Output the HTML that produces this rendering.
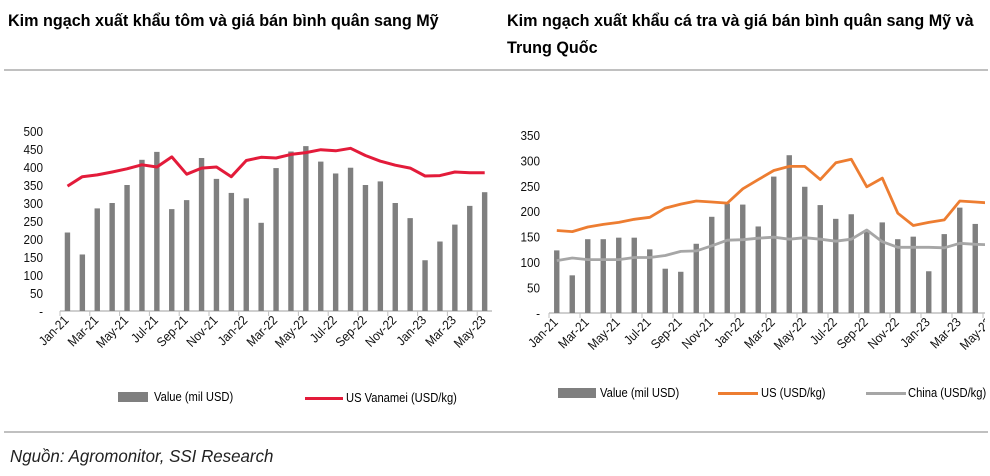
<!DOCTYPE html>
<html><head><meta charset="utf-8"><style>
body{margin:0;background:#fff;}
svg text{font-family:"Liberation Sans",sans-serif;}
</style></head><body>
<svg id="s" width="990" height="471" xmlns="http://www.w3.org/2000/svg">
<g transform="translate(8,26) scale(0.95,1)"><text font-size="17" font-weight="bold" fill="#000">Kim ngạch xuất khẩu tôm và giá bán bình quân sang Mỹ</text></g>
<g transform="translate(507,26) scale(0.95,1)"><text font-size="17" font-weight="bold" fill="#000">Kim ngạch xuất khẩu cá tra và giá bán bình quân sang Mỹ và</text></g>
<g transform="translate(507,53) scale(0.95,1)"><text font-size="17" font-weight="bold" fill="#000">Trung Quốc</text></g>
<rect x="4" y="69" width="984" height="2" fill="#c0c0c0"/>
<rect x="4" y="431" width="984" height="2" fill="#c0c0c0"/>
<g transform="translate(10,462) scale(0.94,1)"><text font-size="18" font-style="italic" fill="#222">Nguồn: Agromonitor, SSI Research</text></g>
<!-- legends -->
<rect x="118" y="392" width="30" height="10" fill="#7f7f7f"/>
<g transform="translate(154,401) scale(0.86,1)"><text font-size="13">Value (mil USD)</text></g>
<rect x="305" y="397" width="38" height="3" fill="#e31b3a"/>
<g transform="translate(346,402) scale(0.86,1)"><text font-size="13">US Vanamei (USD/kg)</text></g>
<rect x="558" y="388" width="38" height="10" fill="#7f7f7f"/>
<g transform="translate(600,397) scale(0.86,1)"><text font-size="13">Value (mil USD)</text></g>
<rect x="718" y="392" width="40" height="3" fill="#ed7d31"/>
<g transform="translate(761,397) scale(0.86,1)"><text font-size="13">US (USD/kg)</text></g>
<rect x="866" y="392" width="40" height="3" fill="#a6a6a6"/>
<g transform="translate(908,397) scale(0.86,1)"><text font-size="13">China (USD/kg)</text></g>
<g id="c1"></g><g id="c2"></g>
<defs><clipPath id="cp"><rect x="490" y="100" width="495" height="280"/></clipPath></defs>
</svg>
<script>
var NS="http://www.w3.org/2000/svg";
function el(p,t,a,txt){var e=document.createElementNS(NS,t);for(var k in a)e.setAttribute(k,a[k]);if(txt!=null)e.textContent=txt;p.appendChild(e);return e;}
var months=["Jan","Feb","Mar","Apr","May","Jun","Jul","Aug","Sep","Oct","Nov","Dec"];
function lab(i){return months[i%12]+"-"+(21+Math.floor(i/12));}
function chart(g,x0,w,y0,k,ticks,lblX,bars,lines,xend){
  el(g,"line",{x1:x0,y1:y0,x2:xend,y2:y0,stroke:"#bfbfbf","stroke-width":1.5});
  ticks.forEach(function(t){var y=y0-t*k;var tg=el(g,"g",{transform:"translate("+lblX+","+(y+5)+") scale(0.9,1)"});el(tg,"text",{"font-size":13,"text-anchor":"end",fill:"#111"},t==0?"-":String(t));});
  for(var i=0;i<=29;i+=2){var x=x0+w*i;el(g,"line",{x1:x,y1:y0,x2:x,y2:y0+5,stroke:"#bfbfbf"});}
  bars.forEach(function(v,i){var cx=x0+w*(i+0.5);el(g,"rect",{x:cx-2.7,y:y0-v*k,width:5.4,height:v*k,fill:"#7f7f7f"});});
  lines.forEach(function(L){var p=L.d.map(function(v,i){return (x0+w*(i+0.5)).toFixed(1)+","+(y0-v*k).toFixed(1);}).join(" ");el(g,"polyline",{points:p,fill:"none",stroke:L.c,"stroke-width":L.sw,"stroke-linejoin":"round"});});
  for(var i=0;i<29;i+=2){var x=x0+w*(i+0.5)+2;var tg=el(g,"g",{transform:"translate("+x+","+(y0+10)+") rotate(-45) scale(0.9,1)"});el(tg,"text",{"font-size":13,"text-anchor":"end",fill:"#111"},lab(i));}
}
var s=document.getElementById("s");
chart(document.getElementById("c1"),60,14.9,311,0.36,[0,50,100,150,200,250,300,350,400,450,500],43,
[218,157,285,300,350,420,442,283,308,425,367,328,313,245,397,443,458,415,382,398,350,360,300,258,141,193,240,292,330],
[{c:"#e31b3a",sw:3,d:[347,373,378,386,395,406,400,428,380,397,400,373,418,427,425,435,440,448,445,452,432,416,405,397,375,376,386,384,384]}],492);
var g2=document.getElementById("c2");g2.setAttribute("clip-path","url(#cp)");
chart(g2,549,15.5,313,0.509,[0,50,100,150,200,250,300,350],540,
[123,74,145,145,148,148,125,87,81,136,189,215,213,170,268,310,248,212,185,194,160,178,145,150,82,155,207,175,170],
[{c:"#a6a6a6",sw:2.8,d:[103,108,105,105,105,109,109,113,121,122,132,143,144,147,149,145,148,145,141,145,163,140,129,129,129,128,137,135,134]},
 {c:"#ed7d31",sw:2.8,d:[162,160,169,174,178,184,188,206,214,220,218,216,244,262,280,288,288,262,295,302,248,265,196,172,178,183,220,218,216]}],1000);
</script>
</body></html>
